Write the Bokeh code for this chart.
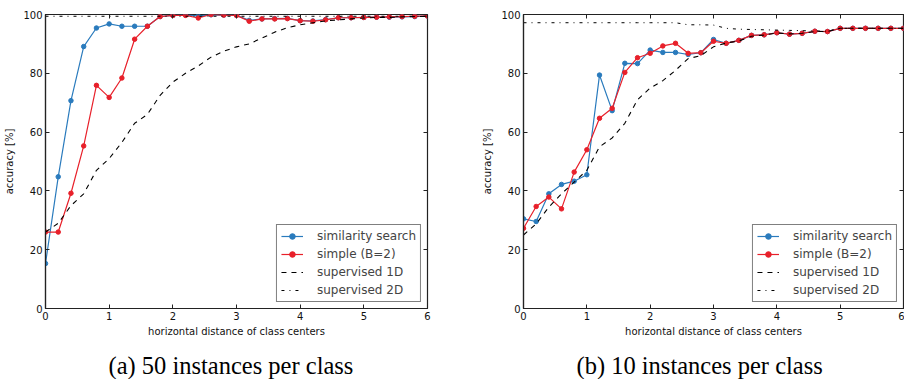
from bokeh.plotting import figure
from bokeh.models import LinearAxis, Legend, LegendItem, Title, Range1d, FixedTicker
from bokeh.layouts import row
from bokeh.embed import file_html
from bokeh.resources import INLINE

# ---------------- data ----------------
x_dist = [0.0, 0.2, 0.4, 0.6, 0.8, 1.0, 1.2, 1.4, 1.6, 1.8, 2.0, 2.2, 2.4, 2.6, 2.8, 3.0,
          3.2, 3.4, 3.6, 3.8, 4.0, 4.2, 4.4, 4.6, 4.8, 5.0, 5.2, 5.4, 5.6, 5.8, 6.0]

x_ticks = [0, 1, 2, 3, 4, 5, 6]
y_ticks = [0, 20, 40, 60, 80, 100]

series_labels = ["similarity search", "simple (B=2)", "supervised 1D", "supervised 2D"]

# (a) 50 instances per class
sim_50 = [15.3, 44.8, 70.7, 89.1, 95.4, 96.8, 96.0, 96.0, 96.0, 99.3, 99.7, 99.8, 99.5, 99.9, 99.8, 99.7,
          98.0, 98.5, 98.6, 98.7, 97.9, 97.8, 98.3, 98.9, 98.9, 99.0, 99.1, 99.1, 99.2, 99.3, 99.5]
simple_50 = [26.0, 26.0, 39.2, 55.3, 75.9, 71.8, 78.4, 91.6, 96.0, 99.3, 99.7, 99.7, 98.8, 100.0, 99.8, 99.7,
             97.7, 98.5, 98.5, 98.6, 97.9, 97.7, 98.2, 98.9, 98.9, 99.0, 99.1, 99.2, 99.3, 99.4, 99.5]
sup1d_50 = [26.0, 29.0, 35.0, 39.0, 47.0, 51.0, 56.5, 63.0, 66.0, 72.5, 77.0, 80.0, 82.5, 85.5, 87.5, 89.0,
            90.0, 92.0, 94.0, 95.5, 96.5, 97.2, 97.8, 98.2, 98.5, 98.8, 99.0, 99.0, 99.2, 99.3, 99.3]
sup2d_50 = [99.4, 99.4, 99.4, 99.4, 99.4, 99.4, 99.4, 99.4, 99.4, 99.4, 99.4, 99.4, 99.4, 99.4, 99.4, 99.4,
            99.4, 99.4, 99.4, 99.4, 99.4, 99.4, 99.4, 99.4, 99.4, 99.4, 99.4, 99.4, 99.4, 99.4, 99.4]

# (b) 10 instances per class
sim_10 = [30.5, 29.6, 39.0, 42.2, 43.3, 45.5, 79.4, 67.3, 83.4, 83.3, 87.9, 87.1, 87.1, 86.4, 87.0, 91.5,
          90.2, 91.2, 92.9, 93.1, 93.8, 93.3, 93.6, 94.3, 94.2, 95.3, 95.3, 95.3, 95.3, 95.3, 95.3]
simple_10 = [27.3, 34.7, 37.9, 33.9, 46.4, 54.0, 64.7, 68.1, 80.3, 85.3, 86.8, 89.3, 90.2, 86.8, 87.0, 90.9,
             90.2, 91.2, 92.9, 93.1, 93.8, 93.3, 93.6, 94.3, 94.2, 95.3, 95.3, 95.3, 95.3, 95.3, 95.3]
sup1d_10 = [25.0, 28.8, 34.5, 39.0, 43.0, 47.0, 55.0, 58.0, 63.0, 71.0, 75.0, 77.5, 81.0, 85.0, 86.0, 89.0,
            90.3, 91.0, 92.6, 93.0, 93.7, 93.4, 93.6, 94.2, 94.2, 95.3, 95.3, 95.3, 95.3, 95.3, 95.3]
sup2d_10 = [97.2, 97.2, 97.2, 97.2, 97.2, 97.2, 97.2, 97.2, 97.2, 97.2, 97.2, 97.2, 97.2, 96.5, 96.5, 96.4,
            95.3, 95.0, 94.9, 94.8, 94.7, 94.6, 94.5, 94.4, 94.3, 95.3, 95.3, 95.3, 95.3, 95.3, 95.3]

captions = ["(a) 50 instances per class", "(b) 10 instances per class"]

BLUE = "#2a7bbd"
RED = "#e8202a"
FONT = "DejaVu Sans"


def make_panel(sim, simple, sup1, sup2, caption, border_left, border_right, cap_offset):
    p = figure(width=452, height=379, output_backend="svg", toolbar_location=None,
               x_range=Range1d(0, 6), y_range=Range1d(0, 100),
               min_border_left=border_left, min_border_right=border_right,
               min_border_top=14, min_border_bottom=0)
    p.grid.visible = False
    p.outline_line_color = "#222222"
    p.outline_line_width = 1.2

    for ax, ticks in ((p.xaxis[0], x_ticks), (p.yaxis[0], y_ticks)):
        ax.ticker = FixedTicker(ticks=ticks)
        ax.major_tick_in = 4
        ax.major_tick_out = 0
        ax.minor_tick_line_color = None
        ax.major_tick_line_color = "#222222"
        ax.axis_line_color = "#222222"
        ax.axis_line_width = 1.2
        ax.major_label_text_font = FONT
        ax.major_label_text_font_size = "10px"
        ax.major_label_text_color = "#111111"
        ax.axis_label_text_font = FONT
        ax.axis_label_text_font_size = "10px"
        ax.axis_label_text_font_style = "normal"
        ax.axis_label_text_color = "#111111"
        ax.major_label_standoff = 3
    p.xaxis[0].axis_label = "horizontal distance of class centers"
    p.xaxis[0].axis_label_standoff = 3
    p.yaxis[0].axis_label = "accuracy [%]"
    p.yaxis[0].axis_label_standoff = 5

    for loc, ticks in (("above", x_ticks), ("right", y_ticks)):
        ax = LinearAxis(ticker=FixedTicker(ticks=ticks),
                        major_label_overrides={t: "" for t in ticks},
                        major_label_text_font_size="1px",
                        major_tick_in=4, major_tick_out=0, minor_tick_line_color=None,
                        axis_line_color=None, major_label_standoff=0,
                        major_tick_line_color="#222222")
        p.add_layout(ax, loc)

    # invisible spacer between the x axis and the caption (one white tick, blank label)
    spacer = LinearAxis(ticker=FixedTicker(ticks=[3]), major_label_overrides={3: ""},
                        major_tick_out=9, major_tick_in=0,
                        major_label_standoff=0, major_label_text_font_size="1px",
                        axis_line_color=None, major_tick_line_color="white",
                        minor_tick_line_color=None)
    p.add_layout(spacer, "below")

    l1 = p.line(x_dist, sim, line_color=BLUE, line_width=1.2)
    s1 = p.scatter(x_dist, sim, size=4.5, fill_color=BLUE, line_color=BLUE)
    l2 = p.line(x_dist, simple, line_color=RED, line_width=1.2)
    s2 = p.scatter(x_dist, simple, size=4.5, fill_color=RED, line_color=RED)
    l3 = p.line(x_dist, sup1, line_color="black", line_width=1.1, line_dash="5 5")
    l4 = p.line(x_dist, sup2, line_color="black", line_width=1.0, line_dash="3 5 1 5")

    legend = Legend(items=[LegendItem(label=series_labels[0], renderers=[l1, s1]),
                           LegendItem(label=series_labels[1], renderers=[l2, s2]),
                           LegendItem(label=series_labels[2], renderers=[l3]),
                           LegendItem(label=series_labels[3], renderers=[l4])],
                    location="bottom_right", margin=6, padding=4, spacing=4,
                    label_height=14, glyph_height=14, glyph_width=22, label_standoff=14,
                    label_text_font=FONT, label_text_font_size="12px",
                    border_line_color="black", border_line_width=1.2,
                    background_fill_color="white", background_fill_alpha=1.0)
    p.add_layout(legend)

    cap = Title(text=caption, align="left", offset=cap_offset, standoff=2,
                text_font="Liberation Serif", text_font_size="24.5px",
                text_font_style="normal", text_color="black")
    p.add_layout(cap, "below")
    return p


p1 = make_panel(sim_50, simple_50, sup1d_50, sup2d_50, captions[0], 45, 25, 63)
p2 = make_panel(sim_10, simple_10, sup1d_10, sup2d_10, captions[1], 71, 1, 53)

layout = row(p1, p2)
open("out.html", "w").write(file_html(layout, INLINE))
